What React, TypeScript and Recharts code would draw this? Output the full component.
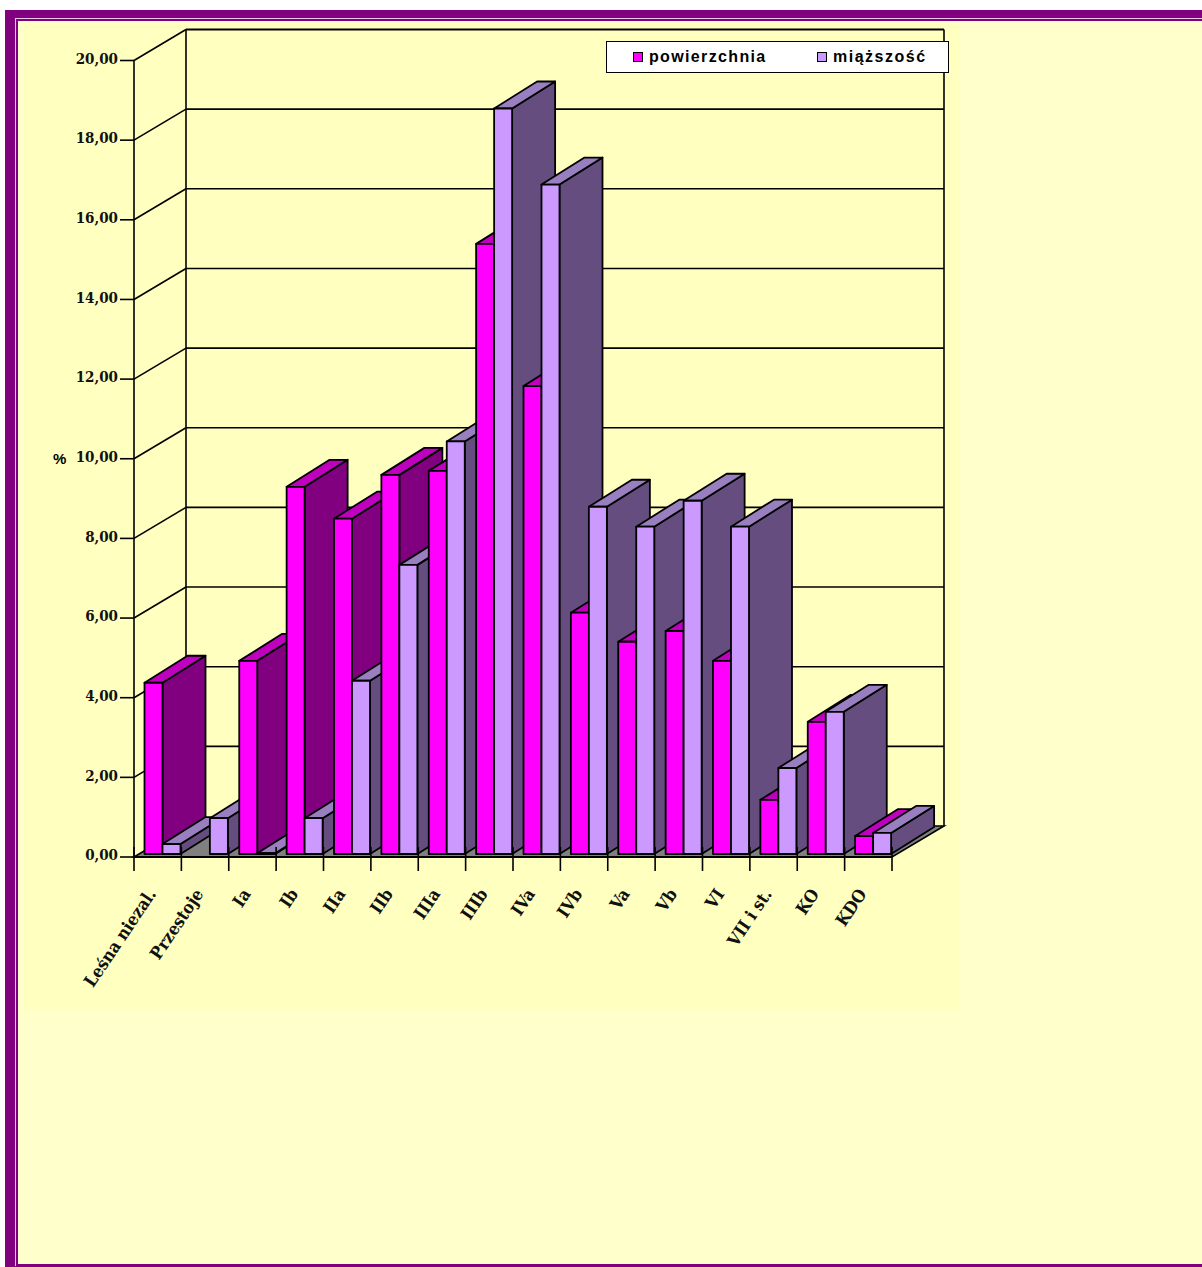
import React from 'react';
import { BarChart, Bar, XAxis, YAxis, CartesianGrid, Legend } from 'recharts';

const categories = ['Leśna niezal.', 'Przestoje', 'Ia', 'Ib', 'IIa', 'IIb', 'IIIa', 'IIIb', 'IVa', 'IVb', 'Va', 'Vb', 'VI', 'VII i st.', 'KO', 'KDO'];
const powierzchnia = [4.3, 0, 4.85, 9.22, 8.42, 9.52, 9.62, 15.32, 11.75, 6.06, 5.33, 5.6, 4.85, 1.36, 3.32, 0.45];
const miazszosc = [0.25, 0.9, 0.02, 0.9, 4.35, 7.26, 10.36, 18.72, 16.81, 8.72, 8.22, 8.87, 8.22, 2.16, 3.57, 0.53];
const yTicks = [0, 2, 4, 6, 8, 10, 12, 14, 16, 18, 20];
const seriesNames = ['powierzchnia', 'miąższość'];

const rows = categories.map((cat, i) => ({ cat, [`p${i}`]: powierzchnia[i], [`m${i}`]: miazszosc[i] }));

const MAGENTA = { front: '#FF00FF', side: '#800080', top: '#BF00BF' };
const LILAC = { front: '#CC99FF', side: '#654E7F', top: '#997FBF' };
const SERIF = '"DejaVu Serif Condensed", "DejaVu Serif", serif';
const SANS = '"Liberation Sans", Arial, sans-serif';

const W = 960, H = 1010;
const LEFT = 134, RIGHT = 892, TOP = 60.5, BOTTOM = 857;
const WALL_DX = 52, WALL_DY = 31;
const BAR_DX = 43, BAR_DY = 27;
const BAR_SHIFT_X = 5, BAR_SHIFT_Y = 3;
const BAND = (RIGHT - LEFT) / categories.length;
const STROKE = 1.8;

const makeShape = (c: typeof MAGENTA) => (p: any) => {
  const { x, y, width, height } = p;
  if (!height || height <= 0) return <g />;
  const X = x + BAR_SHIFT_X, Y = y - BAR_SHIFT_Y;
  const R = X + width, B = Y + height;
  const common = { stroke: '#000', strokeWidth: STROKE, strokeLinejoin: 'round' as const };
  return (
    <g>
      <polygon points={`${R},${Y} ${R + BAR_DX},${Y - BAR_DY} ${R + BAR_DX},${B - BAR_DY} ${R},${B}`} fill={c.side} {...common} />
      <polygon points={`${X},${Y} ${X + BAR_DX},${Y - BAR_DY} ${R + BAR_DX},${Y - BAR_DY} ${R},${Y}`} fill={c.top} {...common} />
      <rect x={X} y={Y} width={width} height={height} fill={c.front} {...common} />
    </g>
  );
};
const shapeP = makeShape(MAGENTA);
const shapeM = makeShape(LILAC);

const gridLine = (p: any) => {
  const { x1, x2, y1, index } = p;
  const ln = { stroke: '#000', strokeWidth: 1.6 };
  const isTop = Math.abs(y1 - TOP) < 1;
  const isBottom = Math.abs(y1 - BOTTOM) < 1;
  return (
    <g key={`g${index}`}>
      {isBottom && (
        <polygon
          points={`${x1},${y1} ${x2},${y1} ${x2 + WALL_DX},${y1 - WALL_DY} ${x1 + WALL_DX},${y1 - WALL_DY}`}
          fill="#808080" stroke="#000" strokeWidth={1.6}
        />
      )}
      {!isBottom && <line x1={x1 + WALL_DX} y1={y1 - WALL_DY} x2={x2 + WALL_DX} y2={y1 - WALL_DY} {...ln} strokeWidth={isTop ? 2 : 1.6} />}
      {!isBottom && <line x1={x1} y1={y1} x2={x1 + WALL_DX} y2={y1 - WALL_DY} {...ln} />}
      {isTop && <line x1={x1 + WALL_DX} y1={y1 - WALL_DY} x2={x1 + WALL_DX} y2={BOTTOM - WALL_DY} {...ln} />}
      {isTop && <line x1={x2 + WALL_DX} y1={y1 - WALL_DY} x2={x2 + WALL_DX} y2={BOTTOM - WALL_DY} {...ln} />}
    </g>
  );
};

const XTick = (p: any) => {
  const { x, payload, index } = p;
  const left = x - BAND / 2;
  const isLast = index === categories.length - 1;
  const tick = (tx: number) => <line x1={tx} x2={tx} y1={BOTTOM - 10} y2={BOTTOM + 14} stroke="#000" strokeWidth={1.6} />;
  const tx = x - 1, ty = BOTTOM + 37;
  return (
    <g>
      {tick(left)}
      {isLast && tick(left + BAND)}
      <text
        x={tx}
        y={ty}
        transform={`rotate(-56 ${tx} ${ty})`}
        textAnchor="end"
        fontFamily={SERIF}
        fontWeight="bold"
        fontSize={17.3}
        fill="#111"
      >
        {payload.value}
      </text>
    </g>
  );
};

const Swatch = ({ color }: { color: string }) => (
  <span style={{ display: 'inline-block', width: 8, height: 8, background: color, border: '1.5px solid #000', marginRight: 6 }} />
);

const LegendBox = () => (
  <div
    style={{
      width: 343, height: 32, boxSizing: 'border-box', background: '#fff', border: '1.8px solid #000',
      position: 'relative', fontFamily: SANS, fontWeight: 'bold', fontSize: 16, color: '#000',
    }}
  >
    {seriesNames.map((n, i) => (
      <div key={n} style={{ position: 'absolute', left: i === 0 ? 26 : 210, top: 6, display: 'flex', alignItems: 'center', letterSpacing: i === 0 ? 1.35 : 1.5, whiteSpace: 'nowrap', lineHeight: '18px' }}>
        <Swatch color={i === 0 ? MAGENTA.front : LILAC.front} />
        {n}
      </div>
    ))}
  </div>
);

export default function App() {
  return (
    <div style={{ position: 'absolute', left: 0, top: 0, width: 1202, height: 1267, background: '#fff', overflow: 'hidden' }}>
      <div style={{ position: 'absolute', left: 5, top: 10, right: 0, bottom: 0, background: '#800080' }} />
      <div style={{ position: 'absolute', left: 15, top: 18, right: 0, bottom: 1, background: '#e8c8e8' }} />
      <div style={{ position: 'absolute', left: 16, top: 19, right: 0, bottom: 1, background: '#800080' }} />
      <div style={{ position: 'absolute', left: 18, top: 21, right: 0, bottom: 3, background: '#FFFFCC' }} />
      <div style={{ position: 'absolute', left: 0, top: 0 }}>
        <div style={{ position: 'absolute', left: 24, top: 24, width: W - 24, height: H - 24, background: '#FFFFC0' }} />
        <BarChart
          width={W}
          height={H}
          data={rows}
          barGap={0}
          barCategoryGap={5.5}
          margin={{ top: TOP, right: W - RIGHT, bottom: 0, left: 0 }}
          style={{ position: 'relative' }}
        >
          <CartesianGrid horizontal={gridLine as any} vertical={false} />
          {categories.flatMap((_, i) => [
            <Bar key={`p${i}`} dataKey={`p${i}`} stackId="p" name={seriesNames[0]} shape={shapeP} legendType="none" isAnimationActive={false} />,
            <Bar key={`m${i}`} dataKey={`m${i}`} stackId="m" name={seriesNames[1]} shape={shapeM} legendType="none" isAnimationActive={false} />,
          ])}
          <XAxis
            dataKey="cat"
            interval={0}
            height={H - BOTTOM}
            tick={XTick}
            tickLine={false}
            axisLine={{ stroke: '#000', strokeWidth: 2 }}
          />
          <YAxis
            width={LEFT}
            domain={[0, 20]}
            ticks={yTicks}
            interval={0}
            tickSize={14}
            tickMargin={2}
            tickFormatter={(v: number) => v.toFixed(2).replace('.', ',')}
            tick={{ fontFamily: SERIF, fontWeight: 'bold', fontSize: 15, fill: '#111', dy: -2 }}
            tickLine={{ stroke: '#000', strokeWidth: 1.6 }}
            axisLine={{ stroke: '#000', strokeWidth: 1.6 }}
            label={{ value: '%', position: 'insideLeft', offset: 53, fontFamily: SANS, fontWeight: 'bold', fontSize: 15, fill: '#000' }}
          />
          <Legend
            layout="horizontal"
            verticalAlign="middle"
            align="center"
            content={LegendBox}
            wrapperStyle={{ left: 606, top: 41, width: 343, height: 32 }}
          />
        </BarChart>
      </div>
    </div>
  );
}
